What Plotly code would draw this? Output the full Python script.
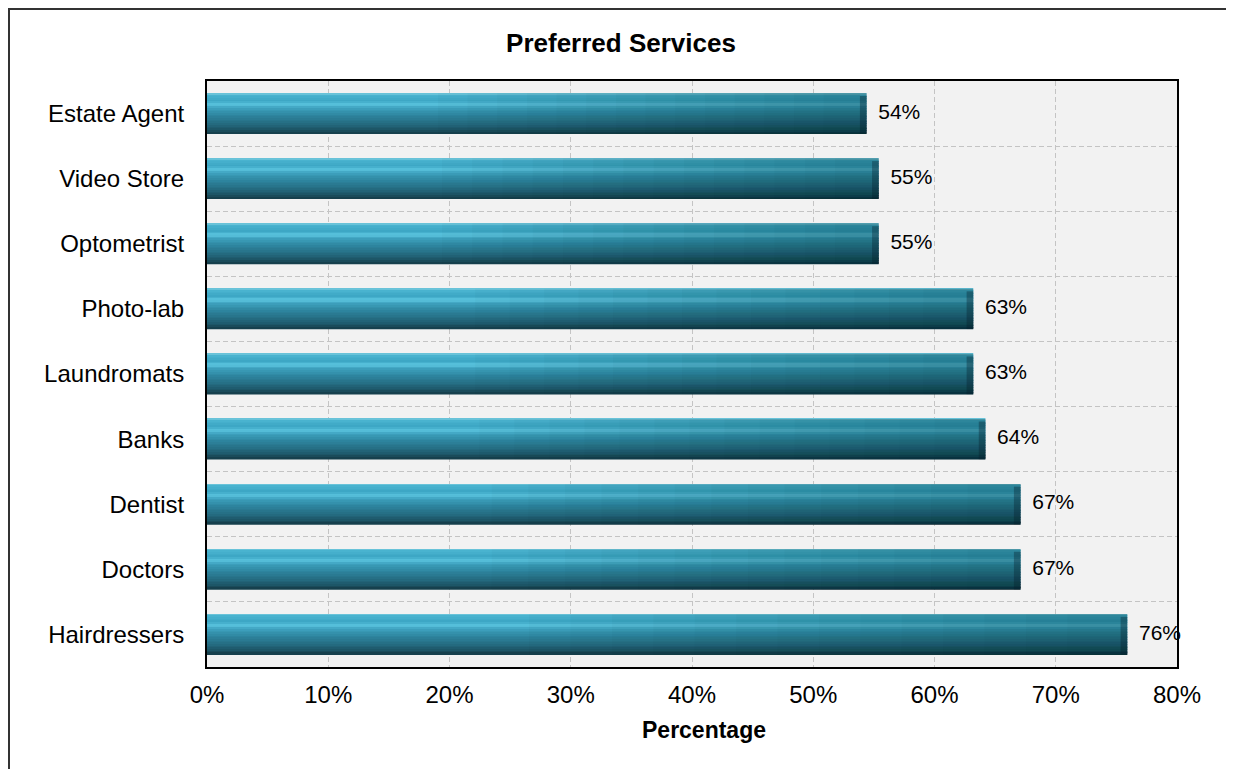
import plotly.graph_objects as go

categories = ["Estate Agent", "Video Store", "Optometrist", "Photo-lab", "Laundromats",
              "Banks", "Dentist", "Doctors", "Hairdressers"]
values = [54.4, 55.4, 55.4, 63.2, 63.2, 64.2, 67.1, 67.1, 75.9]
x_ticks = [0, 10, 20, 30, 40, 50, 60, 70, 80]

FONT = "Liberation Sans, Arial, Helvetica, sans-serif"

# page offset: the browser body adds 8px around the figure
OFF = 8
PL, PR, PT, PB = 207, 1177, 81, 667          # plot area in page pixels
W, H = 1234, 769


def px_to_paper_x(px):
    return (px - PL) / (PR - PL)


def px_to_paper_y(py):
    return (PB - py) / (PB - PT)


# vertical colour profile of the glossy bar (top -> bottom)
stops = [
    (0.00, "#7acbde"),
    (0.06, "#49b3cf"),
    (0.20, "#3ca6c4"),
    (0.29, "#5cc6e0"),
    (0.37, "#3ea2bf"),
    (0.55, "#2e86a0"),
    (0.75, "#256d83"),
    (0.90, "#1d5566"),
    (1.00, "#143a46"),
]


def hex2rgb(h):
    h = h.lstrip("#")
    return tuple(int(h[i:i + 2], 16) for i in (0, 2, 4))


def colour_at(f):
    for (f0, c0), (f1, c1) in zip(stops[:-1], stops[1:]):
        if f0 <= f <= f1:
            t = (f - f0) / (f1 - f0) if f1 > f0 else 0
            a, b = hex2rgb(c0), hex2rgb(c1)
            r = [round(a[k] + (b[k] - a[k]) * t) for k in range(3)]
            return "rgb(%d,%d,%d)" % tuple(r)
    return stops[-1][1]


BAR_W = 0.62
N_STRIPS = 24
strip = BAR_W / N_STRIPS

fig = go.Figure()
for i in range(N_STRIPS):
    f = (i + 0.5) / N_STRIPS
    fig.add_trace(go.Bar(
        y=categories, x=values, orientation="h",
        width=strip + 0.004, offset=-BAR_W / 2 + i * strip,
        marker=dict(color=colour_at(f), line=dict(width=0)),
        hoverinfo="skip", showlegend=False,
    ))

# gentle darkening toward the right end of each bar
for k in range(14):
    frac = 0.35 + k * 0.045
    fig.add_trace(go.Bar(
        y=categories, x=[v * (1 - frac) for v in values], base=[v * frac for v in values],
        orientation="h", width=BAR_W, offset=-BAR_W / 2,
        marker=dict(color="rgba(5,30,40,0.025)", line=dict(width=0)),
        hoverinfo="skip", showlegend=False,
    ))

# dark bevelled end cap
fig.add_trace(go.Bar(
    y=categories, x=[0.55] * len(values), base=[v - 0.55 for v in values],
    orientation="h", width=BAR_W - 0.04, offset=-BAR_W / 2 + 0.04,
    marker=dict(color="rgba(5,30,40,0.35)", line=dict(width=0)),
    hoverinfo="skip", showlegend=False,
))

# value labels
fig.add_trace(go.Scatter(
    y=categories, x=values, mode="text",
    text=[f"\u00a0\u00a0{v:.0f}%" for v in values],
    textposition="middle right",
    textfont=dict(family=FONT, size=21, color="#000000"),
    cliponaxis=False, hoverinfo="skip", showlegend=False,
))

fig.update_layout(
    width=W, height=H,
    barmode="overlay",
    paper_bgcolor="#ffffff",
    plot_bgcolor="#f2f2f2",
    margin=dict(l=PL - OFF, r=W + OFF - PR, t=PT - OFF, b=H + OFF - PB, pad=0),
    font=dict(family=FONT, size=24, color="#000000"),
    title=dict(text="<b>Preferred Services</b>", x=(621 - OFF) / W, xanchor="center",
               y=1 - (43 - OFF) / H, yanchor="middle", font=dict(family=FONT, size=26)),
    showlegend=False,
)

fig.update_xaxes(
    range=[0, 80], tickvals=x_ticks, ticktext=[f"{t}%" for t in x_ticks],
    showgrid=True, gridcolor="#c4c4c4", griddash="5px,3px", gridwidth=1,
    showline=True, linecolor="#000000", linewidth=2, mirror=True,
    ticks="", zeroline=False, ticklabelstandoff=5,
    tickfont=dict(family=FONT, size=24),
)
fig.update_yaxes(
    type="category", categoryorder="array", categoryarray=categories,
    autorange="reversed", tickson="boundaries",
    showgrid=True, gridcolor="#c4c4c4", griddash="5px,3px", gridwidth=1,
    showline=True, linecolor="#000000", linewidth=2, mirror=True,
    ticks="", ticklabelstandoff=16,
    tickfont=dict(family=FONT, size=24),
)

# axis title placed as in the reference
fig.add_annotation(
    text="<b>Percentage</b>", xref="paper", yref="paper",
    x=px_to_paper_x(704), y=px_to_paper_y(730), xanchor="center", yanchor="middle",
    showarrow=False, font=dict(family=FONT, size=23, color="#000000"),
)

# outer frame of the chart
fig.add_shape(type="rect", xref="paper", yref="paper",
              x0=px_to_paper_x(OFF + 1), x1=px_to_paper_x(1260),
              y0=px_to_paper_y(800), y1=px_to_paper_y(OFF + 1),
              line=dict(color="#333333", width=2), fillcolor="rgba(0,0,0,0)", layer="below")

fig.write_html("out.html")
